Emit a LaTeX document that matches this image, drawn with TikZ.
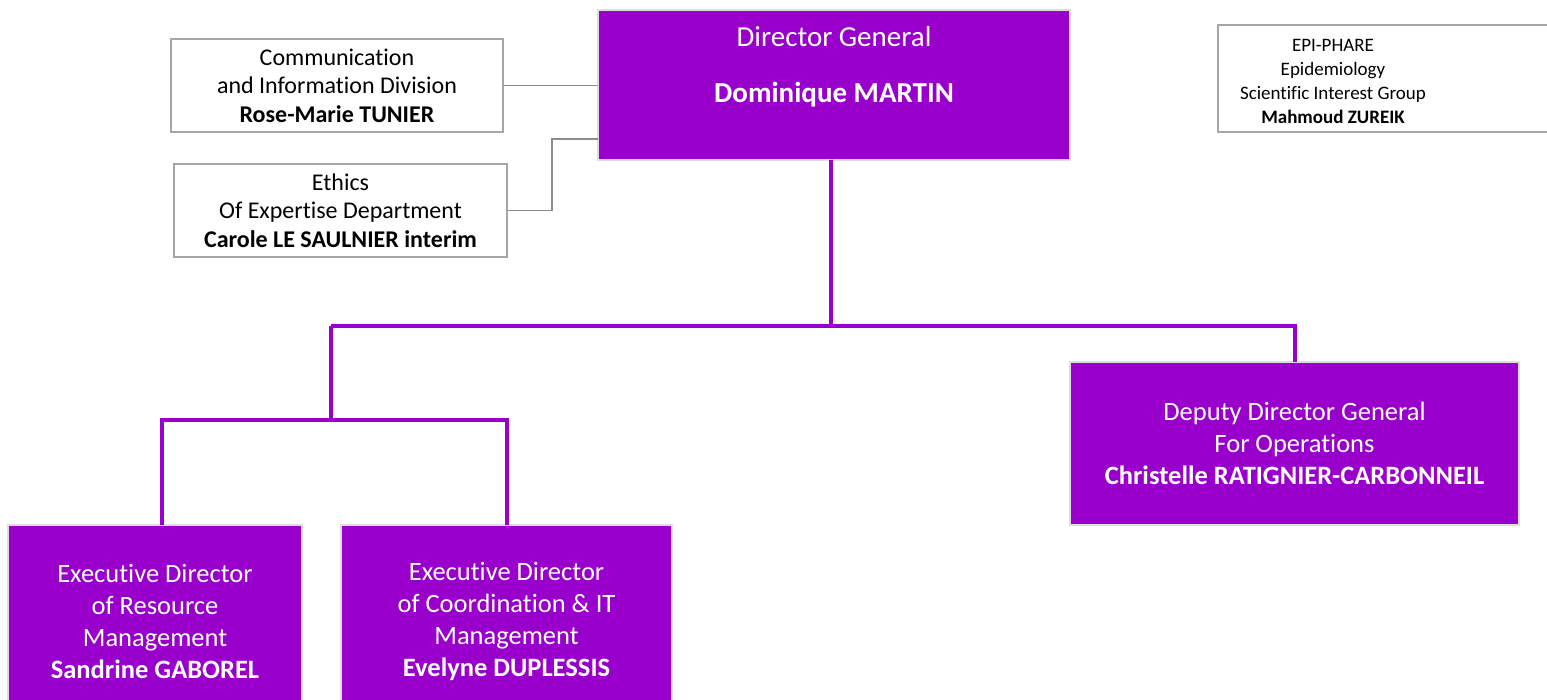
\documentclass[tikz,border=0pt]{standalone}
\usepackage{fontspec}
\setmainfont[Ligatures=NoCommon]{Carlito}
\usetikzlibrary{calc}
\definecolor{dgpurple}{HTML}{9900CC}
\definecolor{boxedge}{HTML}{DDDDDD}
\definecolor{greyedge}{HTML}{A6A6A6}
\definecolor{linegrey}{HTML}{8C8C8C}
\begin{document}
\begin{tikzpicture}[x=1pt,y=-1pt,
  pbox/.style={draw=boxedge, line width=2pt, fill=dgpurple, text=white, inner sep=0pt, outer sep=0pt, align=center, anchor=north west},
  wbox/.style={draw=greyedge, line width=2pt, fill=white, inner sep=0pt, outer sep=0pt, align=center, anchor=north west},
  ptext/.style={text=white, align=center, inner sep=0pt},
  btext/.style={text=black, align=center, inner sep=0pt},
  orgline/.style={draw=dgpurple, line width=4pt, line join=miter},
  thinline/.style={draw=linegrey, line width=1.5pt}]
\useasboundingbox (0,0) rectangle (1547,699);
% Director General
\node[pbox, minimum width=472pt, minimum height=150pt] (dg) at (598,10) {};
\node[ptext, font=\fontsize{29}{34}\selectfont] (dgt) at (834,37) {Director General};
\node[ptext, font=\fontsize{29}{34}\selectfont\bfseries] (dgn) at (834,95) {Dominique MARTIN};
% Communication
\node[wbox, minimum width=332pt, minimum height=93pt, font=\fontsize{24}{28.5}\selectfont] (comm) at (171,39)
  {Communication\\and Information Division\\\textbf{Rose-Marie TUNIER}};
% Ethics
\node[wbox, minimum width=333pt, minimum height=93pt, font=\fontsize{24}{28.5}\selectfont] (eth) at (174,164)
  {Ethics\\Of Expertise Department\\\textbf{Carole LE SAULNIER interim}};
% EPI-PHARE
\node[wbox, minimum width=345pt, minimum height=107pt] (epi) at (1218,25) {};
\node[btext, font=\fontsize{19}{24}\selectfont] (epit) at (1333,81)
  {EPI-PHARE\\Epidemiology\\Scientific Interest Group\\\textbf{Mahmoud ZUREIK}};
% Deputy
\node[pbox, minimum width=449pt, minimum height=163pt, font=\fontsize{26.5}{32}\selectfont] (dep) at (1070,362)
  {Deputy Director General\\For Operations\\\textbf{Christelle RATIGNIER-CARBONNEIL}};
% Executive directors
\node[pbox, minimum width=294pt, minimum height=192pt, font=\fontsize{26.5}{32}\selectfont] (res) at (8,525)
  {Executive Director\\of Resource\\Management\\\textbf{Sandrine GABOREL}};
\node[pbox, minimum width=331pt, minimum height=192pt, font=\fontsize{26.5}{32}\selectfont] (coord) at (341,525)
  {Executive Director\\of Coordination \& IT\\Management\\\textbf{Evelyne DUPLESSIS}};
% connectors
\coordinate (busA) at (331,326);
\coordinate (busB) at (331,420);
\draw[orgline] ($(dg.south)+(-3,0)$) -- ($(dg.south |- busA)+(-3,0)$);
\draw[orgline] (busA) -| (dep.north);
\draw[orgline] (busA) -- (busB);
\draw[orgline] ($(res.north)+(7,0)$) |- (busB) -| (coord.north);
\draw[thinline] (comm.east) -- (comm.east -| dg.west);
\draw[thinline] (eth.east) -- ++(45,0) |- ($(dg.south west)+(0,-21)$);
\end{tikzpicture}
\end{document}
